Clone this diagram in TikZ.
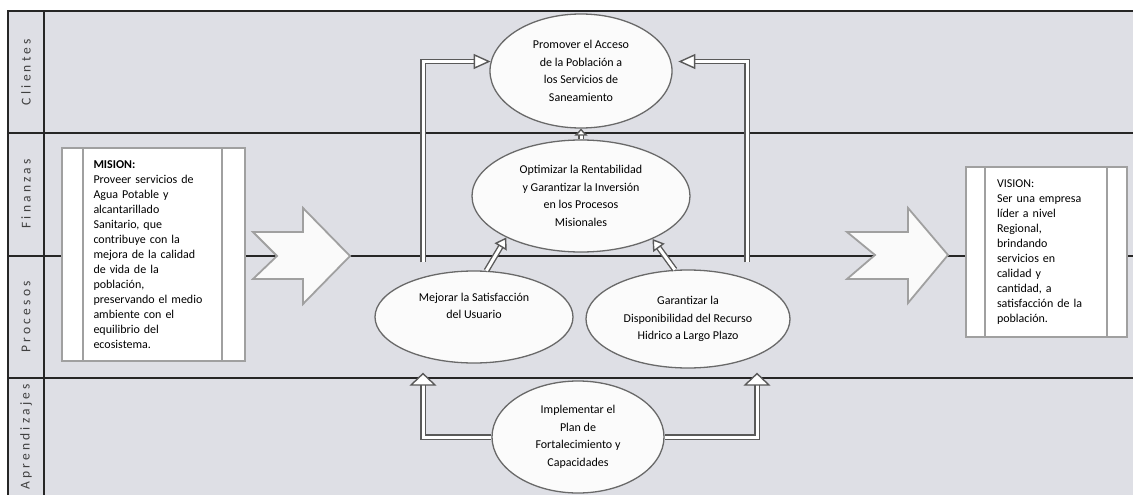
\documentclass[tikz,border=0pt]{standalone}
\usepackage{fontspec}
\setmainfont{Carlito}
\usetikzlibrary{arrows.meta,shapes.geometric}
\definecolor{lanegray}{RGB}{222,223,229}
\definecolor{edgegray}{RGB}{105,105,105}
\definecolor{softgray}{RGB}{160,160,160}
\tikzset{
  objective/.style={ellipse, draw=edgegray, line width=1.3pt, fill=white!97!gray,
    align=center, inner sep=0pt, font=\fontsize{12}{17.5}\selectfont},
  statement/.style={rectangle, draw=softgray, line width=2pt, fill=white,
    align=left, inner xsep=0pt, font=\fontsize{12}{15}\selectfont},
  lanelabel/.style={rotate=90, text=black!75,
    font=\fontsize{13.5}{16}\selectfont\addfontfeatures{LetterSpace=24}},
  laneline/.style={black!85, line width=1.2pt},
  hollow/.style 2 args={draw=black!65, line width=1.4pt, double=white, double distance=3pt,
    -{Triangle[open, fill=white, length=#1, width=#2]}},
  bigarrow/.style={draw=softgray, line width=1.8pt, fill=white!96!gray, line join=miter}
}
\begin{document}
\begin{tikzpicture}[x=1pt, y={(0pt,-1pt)}]
\useasboundingbox (0,0) rectangle (1133,495);
\fill[white] (0,0) rectangle (1133,495);
\fill[lanegray] (8,11) rectangle (1133,495);

% carriles
\draw[laneline] (8,495) -- (8,11) -- (1133,11);
\draw[laneline] (44,11) -- (44,495);
\foreach \y in {133,256,378}
  \draw[laneline] (8,\y) -- (1133,\y);

\node[lanelabel] (lclientes) at (26,72) {Clientes};
\node[lanelabel] (lfinanzas) at (26,194) {Finanzas};
\node[lanelabel] (lprocesos) at (26,317) {Procesos};
\node[lanelabel] (laprendizajes) at (26,437) {Aprendizajes};

% flechas grandes
\draw[bigarrow] (253,232) -- (303,232) -- (303,208) -- (350,256)
  -- (303,304) -- (303,279) -- (253,279) -- (277,256) -- cycle;
\draw[bigarrow] (847,232) -- (908,232) -- (908,208) -- (948,255)
  -- (908,303) -- (908,279) -- (847,279) -- (875,255) -- cycle;

% mision y vision
\node[statement, minimum width=183pt, minimum height=213pt, text width=120pt]
  (mision) at (153.5,254.5) {\textbf{MISION:}\\
  Proveer servicios de\\ Agua Potable y\\ alcantarillado\\ Sanitario, que\\
  contribuye con la\\ mejora de la calidad\\ de vida de la\\ población,\\
  preservando el medio\\ ambiente con el\\ equilibrio del\\ ecosistema.};
\node[statement, minimum width=161pt, minimum height=170pt, text width=99pt]
  (vision) at (1046.5,252) {VISION:\\
  Ser una empresa\\ líder a nivel\\ Regional,\\ brindando\\ servicios en\\
  calidad y\\ cantidad, a\\ satisfacción de la\\ población.};
\foreach \n/\l/\r in {mision/22/24, vision/20/21} {
  \draw[softgray, line width=1.5pt] ([xshift=\l pt]\n.north west) -- ([xshift=\l pt]\n.south west);
  \draw[softgray, line width=1.5pt] ([xshift=-\r pt]\n.north east) -- ([xshift=-\r pt]\n.south east);
}

% objetivos
\node[objective, minimum width=182pt, minimum height=114pt] (promover) at (581,71)
  {Promover el Acceso\\ de la Población a\\ los Servicios de\\ Saneamiento};
\node[objective, minimum width=218pt, minimum height=112pt] (optimizar) at (581,196)
  {Optimizar la Rentabilidad\\ y Garantizar la Inversión\\ en los Procesos\\ Misionales};
\node[objective, minimum width=198pt, minimum height=92pt] (mejorar) at (474,317)
  {Mejorar la Satisfacción\\ del Usuario\\ \strut};
\node[objective, minimum width=204pt, minimum height=98pt] (garantizar) at (688,319)
  {Garantizar la\\ Disponibilidad del Recurso\\ Hidrico a Largo Plazo};
\node[objective, minimum width=172pt, minimum height=112pt] (implementar) at (578,437)
  {Implementar el\\ Plan de\\ Fortalecimiento y\\ Capacidades};

% relaciones
\draw[hollow={17pt}{15pt}] ([xshift=-51pt, yshift=8pt]mejorar.north) |- (promover.174);
\draw[hollow={17pt}{15pt}, shorten >=7pt] ([xshift=59pt, yshift=7pt]garantizar.north) |- (promover.6);
\draw[hollow={7pt}{13pt}] (optimizar.north) -- (promover.south);
\draw[hollow={11pt}{14pt}] (mejorar.75) -- (optimizar.209);
\draw[hollow={11pt}{14pt}] (garantizar.105) -- (optimizar.329);
\draw[hollow={13pt}{27pt}] (implementar.west) -| ([xshift=-51pt, yshift=-9pt]mejorar.south);
\draw[hollow={13pt}{27pt}] (implementar.east) -| ([xshift=69pt, yshift=-4pt]garantizar.south);
\end{tikzpicture}
\end{document}
